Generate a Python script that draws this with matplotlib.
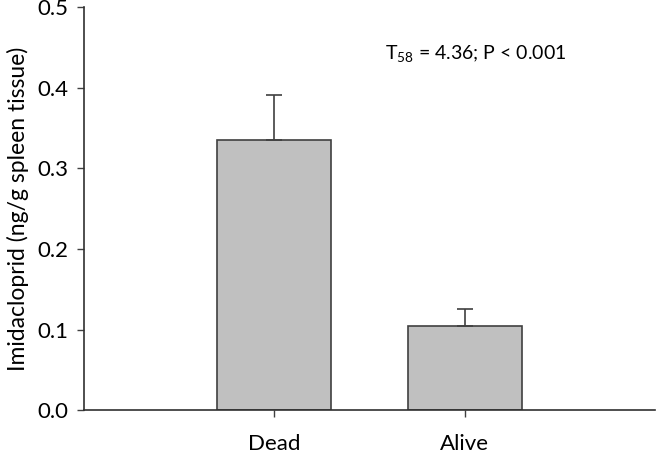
import matplotlib
matplotlib.use("Agg")
import matplotlib.pyplot as plt

categories = ["Dead", "Alive"]
values = [0.335, 0.104]
errors = [0.056, 0.022]
yticks = [0.0, 0.1, 0.2, 0.3, 0.4, 0.5]

plt.rcParams['font.family'] = ['Lato', 'DejaVu Sans']
plt.rcParams['mathtext.fontset'] = 'custom'
plt.rcParams['mathtext.rm'] = 'Lato'
plt.rcParams['mathtext.it'] = 'Lato:italic'

fig = plt.figure(figsize=(6.63, 4.54), dpi=100)
ax = fig.add_axes([0.1267, 0.0969, 0.988 - 0.1267, 0.9835 - 0.0969])

x = [1, 2]
ax.bar(x, values, width=0.6, color="#c0c0c0", edgecolor="#404040", linewidth=1.2, zorder=2)
ax.errorbar(x, values, yerr=[[0, 0], errors], fmt="none", ecolor="#404040",
            elinewidth=1.2, capsize=6, capthick=1.2, zorder=3)

ax.set_xlim(0, 3)
ax.set_ylim(0, 0.5)
ax.set_xticks(x)
ax.set_xticklabels(categories, fontsize=16)
ax.set_yticks(yticks)
ax.set_yticklabels([f"{v:.1f}" for v in yticks], fontsize=16)
ax.tick_params(axis='y', direction='out', length=5, width=1, color="#404040", pad=6)
ax.tick_params(axis='x', direction='out', length=5, width=1, color="#404040", pad=12)
for s in ["top", "right"]:
    ax.spines[s].set_visible(False)
for s in ["left", "bottom"]:
    ax.spines[s].set_color("#303030")
    ax.spines[s].set_linewidth(1.2)

ax.set_ylabel("Imidacloprid (ng/g spleen tissue)", fontsize=16.5, labelpad=6)
ax.text(2.06, 0.443, r"T$_{\mathrm{58}}$ = 4.36; P < 0.001", fontsize=14, ha="center", va="center")

fig.savefig("out.png", dpi=100)
